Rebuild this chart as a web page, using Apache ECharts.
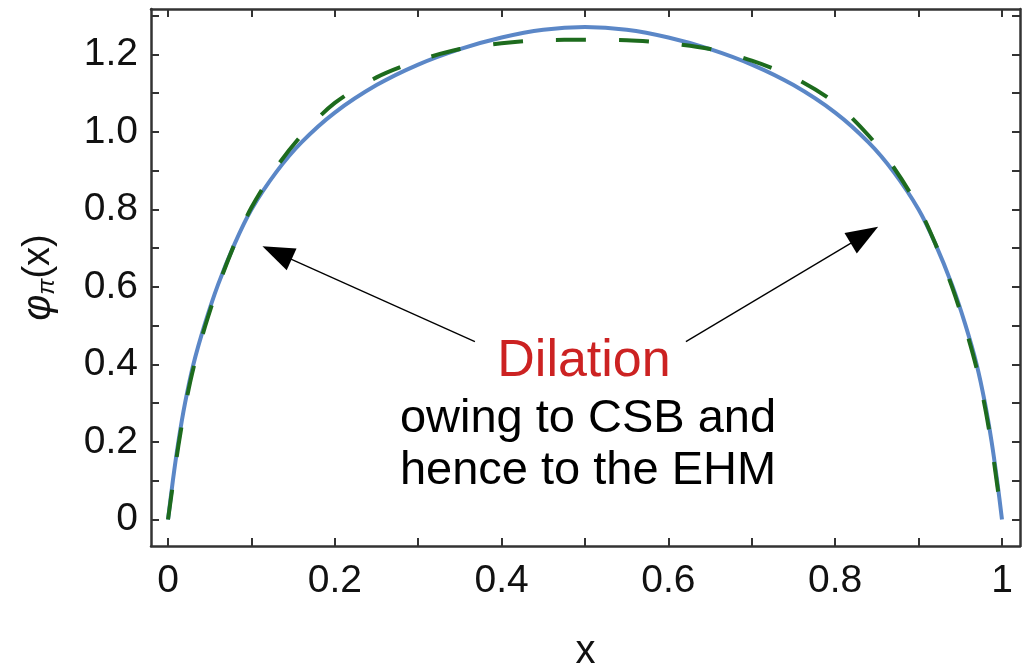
<!DOCTYPE html>
<html>
<head>
<meta charset="utf-8">
<script src="https://cdn.jsdelivr.net/npm/echarts@6/dist/echarts.min.js"></script>
<style>
  html, body { margin: 0; padding: 0; background: #fff; }
  #chart { width: 1028px; height: 668px; }
</style>
</head>
<body>
<div id="chart"></div>
<script>
// values
const xBlue = [0, 0.0058, 0.0124, 0.0204, 0.0304, 0.0444, 0.06, 0.08, 0.1, 0.13, 0.16, 0.2, 0.25, 0.3, 0.35, 0.4, 0.45, 0.5,
  0.55, 0.6, 0.65, 0.7, 0.75, 0.8, 0.84, 0.87, 0.9, 0.92, 0.94, 0.9556, 0.9696, 0.9796, 0.9876, 0.9942, 1];
const yBlue = [0, 0.1, 0.2, 0.3, 0.4, 0.506, 0.606, 0.712, 0.8, 0.897, 0.973, 1.05, 1.121, 1.174, 1.214, 1.244, 1.264, 1.271,
  1.264, 1.244, 1.214, 1.174, 1.121, 1.05, 0.973, 0.897, 0.8, 0.712, 0.606, 0.506, 0.4, 0.3, 0.2, 0.1, 0];

const xGreen = [0, 0.0058, 0.0124, 0.0204, 0.0304, 0.0444, 0.06, 0.08, 0.1, 0.13, 0.16, 0.2, 0.25, 0.3, 0.35, 0.4, 0.45, 0.5,
  0.55, 0.6, 0.65, 0.7, 0.75, 0.8, 0.84, 0.87, 0.9, 0.92, 0.94, 0.9556, 0.9696, 0.9796, 0.9876, 0.9942, 1];
const yGreen = [0, 0.09, 0.19, 0.29, 0.39, 0.498, 0.601, 0.712, 0.805, 0.909, 0.991, 1.075, 1.141, 1.184, 1.214, 1.229, 1.237, 1.238,
  1.237, 1.229, 1.214, 1.184, 1.141, 1.075, 0.991, 0.909, 0.805, 0.712, 0.601, 0.498, 0.39, 0.29, 0.19, 0.09, 0];

const xTickLabels = [0, 0.2, 0.4, 0.6, 0.8, 1];
const xTicks = [0, 0.1, 0.2, 0.3, 0.4, 0.5, 0.6, 0.7, 0.8, 0.9, 1];
const yTickLabels = [0, 0.2, 0.4, 0.6, 0.8, 1.0, 1.2];
const yTicks = [0, 0.1, 0.2, 0.3, 0.4, 0.5, 0.6, 0.7, 0.8, 0.9, 1.0, 1.1, 1.2, 1.3];

// arrows: [start, head]
const arrows = [
  [[0.368, 0.459], [0.1307, 0.6882]],
  [[0.621, 0.459], [0.835, 0.734]]
];

const font = 'Liberation Sans, Arial, sans-serif';
const axisColor = '#333';

const pairs = (xs, ys) => xs.map((x, i) => [x, ys[i]]);

const xFmt = v => (v === 0 || v === 1) ? String(v) : v.toFixed(1);
const yFmt = v => v === 0 ? '0' : v.toFixed(1);

function xAxisDef(pos, show) {
  return {
    type: 'value', position: pos, min: -0.0204, max: 1.0216,
    axisLine: { show: true, onZero: false, lineStyle: { color: axisColor, width: 2.5 } },
    axisTick: { show: true, inside: true, length: 8, customValues: xTicks, lineStyle: { color: axisColor, width: 2 } },
    axisLabel: { show: show, customValues: xTickLabels, formatter: xFmt, fontSize: 39, color: '#111', fontFamily: font, margin: 16 },
    splitLine: { show: false },
    name: show ? 'x' : '', nameLocation: 'middle', nameGap: 86,
    nameTextStyle: { fontSize: 40, color: '#111', fontFamily: font }
  };
}

function yAxisDef(pos, show) {
  return {
    type: 'value', position: pos, min: -0.0684, max: 1.3174,
    axisLine: { show: true, onZero: false, lineStyle: { color: axisColor, width: 2.5 } },
    axisTick: { show: true, inside: true, length: 8, customValues: yTicks, lineStyle: { color: axisColor, width: 2 } },
    axisLabel: { show: show, customValues: yTickLabels, formatter: yFmt, fontSize: 39, color: '#111', fontFamily: font, margin: 13 },
    splitLine: { show: false },
    name: show ? '{f|φ}{s|π}{p|(x)}' : '', nameLocation: 'middle', nameGap: 92,
    nameTextStyle: {
      color: '#111', fontFamily: font,
      rich: {
        f: { fontSize: 40, fontFamily: font, color: '#111', fontStyle: 'italic' },
        p: { fontSize: 38, fontFamily: font, color: '#111' },
        s: { fontSize: 24, fontFamily: font, color: '#111', fontStyle: 'italic', verticalAlign: 'bottom', lineHeight: 30 }
      }
    }
  };
}

const chart = echarts.init(document.getElementById('chart'));
chart.setOption({
  animation: false,
  backgroundColor: '#fff',
  grid: { left: 151, top: 9, right: 8, bottom: 122, containLabel: false, outerBoundsMode: 'none' },
  xAxis: [xAxisDef('bottom', true), Object.assign(xAxisDef('top', false), { name: '' })],
  yAxis: [yAxisDef('left', true), Object.assign(yAxisDef('right', false), { name: '' })],
  series: [
    {
      type: 'line', name: 'blue', data: pairs(xBlue, yBlue), smooth: 0.3,
      showSymbol: false, lineStyle: { color: '#5b87c7', width: 4 }, z: 2
    },
    {
      type: 'line', name: 'green', data: pairs(xGreen, yGreen), smooth: 0.3,
      showSymbol: false, lineStyle: { color: '#1d6b1d', width: 4, type: [30, 33] }, z: 3,
      markLine: {
        silent: true, animation: false,
        symbol: ['none', 'triangle'], symbolSize: [24, 32],
        label: { show: false },
        lineStyle: { color: '#000', width: 1.3, type: 'solid' },
        emphasis: { disabled: true },
        data: arrows.map(a => [{ coord: a[0] }, { coord: a[1] }])
      }
    }
  ],
  graphic: [
    { type: 'text', x: 584, y: 362, style: { text: 'Dilation', fill: '#cc2222', font: '52px ' + font, textAlign: 'center', textVerticalAlign: 'middle' } },
    { type: 'text', x: 588, y: 419, style: { text: 'owing to CSB and', fill: '#000', font: '47px ' + font, textAlign: 'center', textVerticalAlign: 'middle' } },
    { type: 'text', x: 588, y: 471, style: { text: 'hence to the EHM', fill: '#000', font: '47px ' + font, textAlign: 'center', textVerticalAlign: 'middle' } }
  ]
});
</script>
</body>
</html>
